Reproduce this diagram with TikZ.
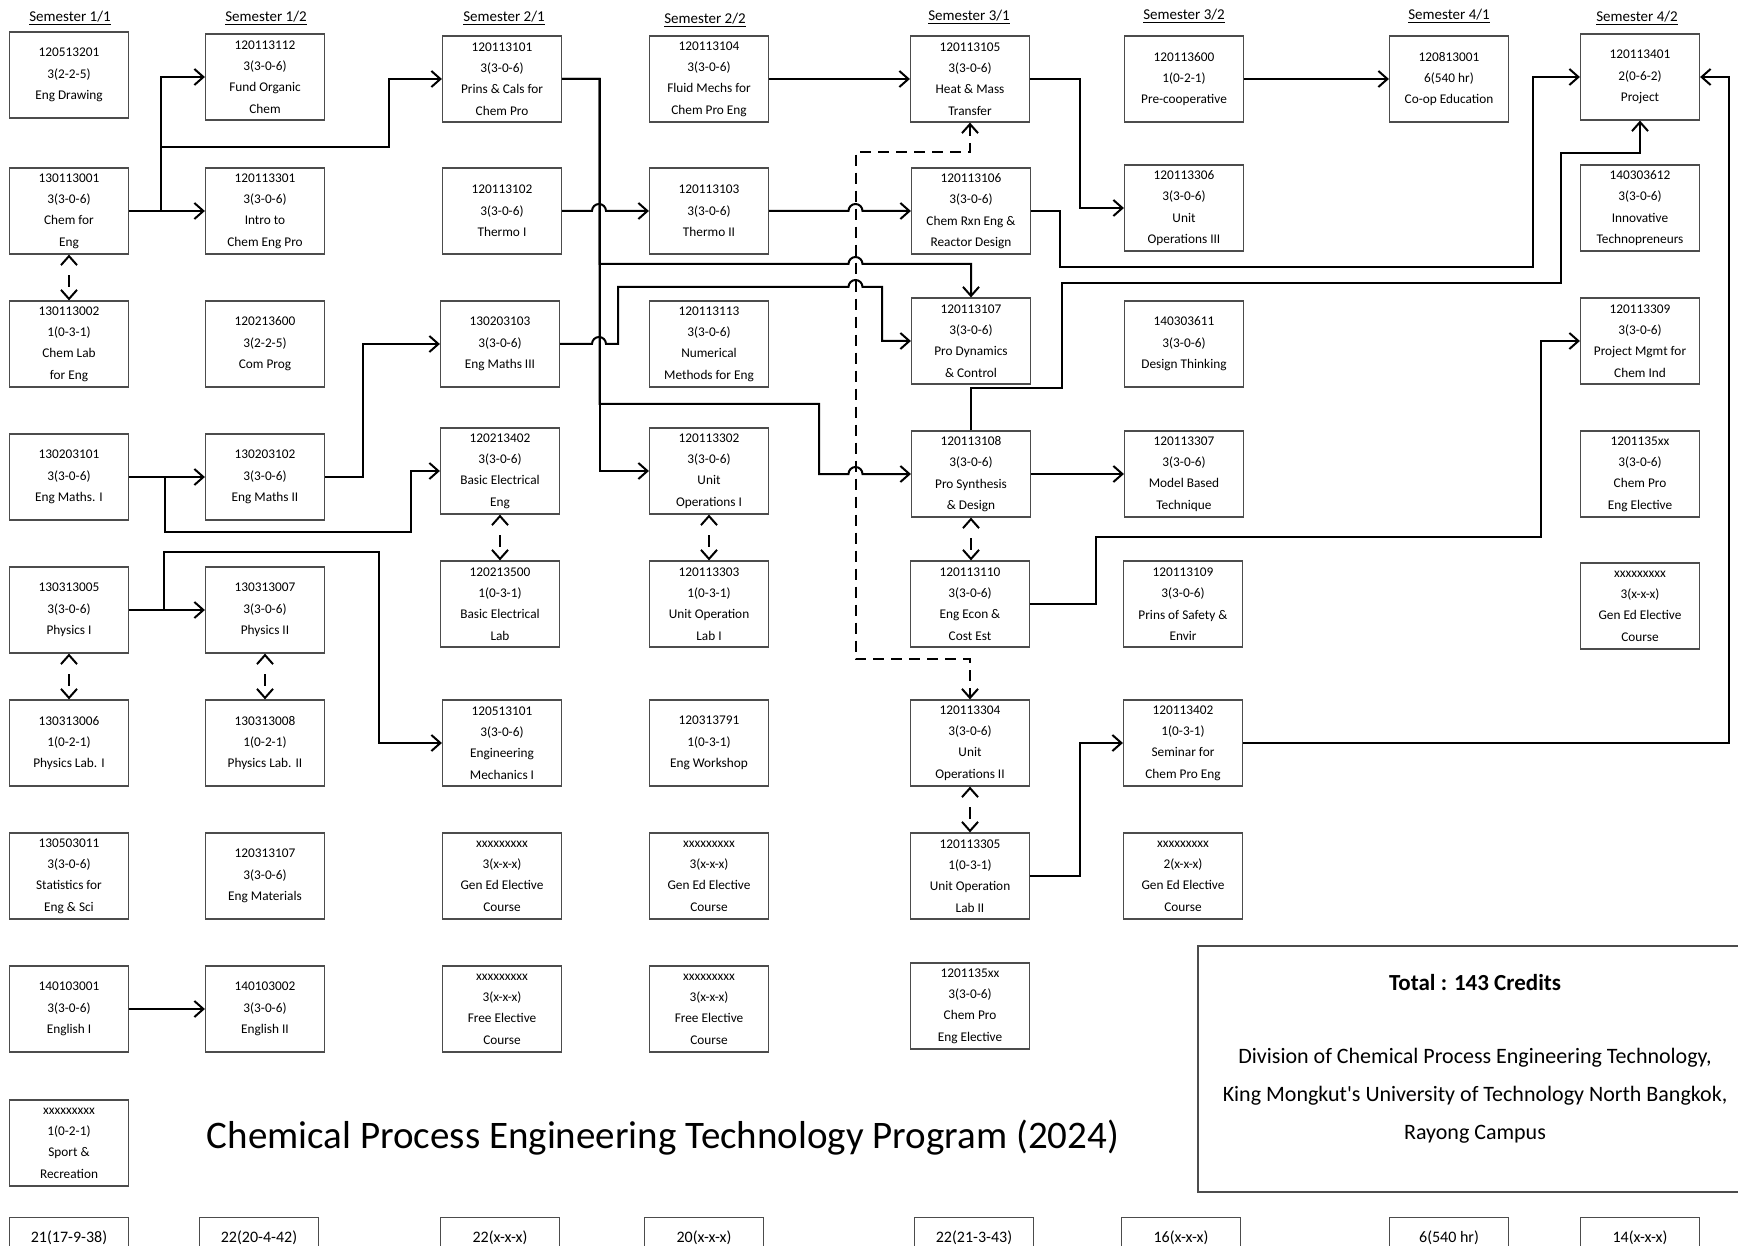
\documentclass[tikz,border=0pt]{standalone}
\usepackage{fontspec}
\setmainfont{Carlito}
\usepackage{tikz}
\usetikzlibrary{arrows.meta}

\begin{document}
\begin{tikzpicture}[x=1pt, y=-1pt,
    course/.style={draw=black!70, line width=1.2pt, minimum width=119pt, minimum height=86pt, inner sep=0pt, align=center, font=\fontsize{13.3}{21.4}\selectfont},
    sem/.style={font=\fontsize{15}{18}\selectfont},
    total/.style={draw=black!70, line width=1.2pt, anchor=north, minimum width=119pt, minimum height=40pt, inner sep=0pt, font=\fontsize{16}{18}\selectfont},
    arr/.style={-{Straight Barb[length=9pt,width=16pt]}, line width=2pt},
    coreq/.style={{Straight Barb[length=9pt,width=16pt]}-{Straight Barb[length=9pt,width=16pt]}, line width=2pt, dash pattern=on 12pt off 60pt, dash phase=54pt},
    coreqlong/.style={{Straight Barb[length=9pt,width=16pt]}-{Straight Barb[length=9pt,width=16pt]}, line width=2pt, dash pattern=on 11pt off 7pt},
]
    \useasboundingbox (0,0) rectangle (1738,1246);

    \node[sem] (s11) at (70,18)   {\underline{Semester 1/1}};
    \node[sem] (s12) at (266,18)  {\underline{Semester 1/2}};
    \node[sem] (s21) at (504,18)  {\underline{Semester 2/1}};
    \node[sem] (s22) at (705,20)  {\underline{Semester 2/2}};
    \node[sem] (s31) at (969,17)  {\underline{Semester 3/1}};
    \node[sem] (s32) at (1184,16) {\underline{Semester 3/2}};
    \node[sem] (s41) at (1449,16) {\underline{Semester 4/1}};
    \node[sem] (s42) at (1637,18) {\underline{Semester 4/2}};

    \node[course] (drw)     at (69,75)    {120513201\\3(2-2-5)\\Eng Drawing};
    \node[course] (chem)    at (69,211)   {130113001\\3(3-0-6)\\Chem for\\Eng};
    \node[course] (chemlab) at (69,344)   {130113002\\1(0-3-1)\\Chem Lab\\for Eng};
    \node[course] (m1)      at (69,477)   {130203101\\3(3-0-6)\\Eng Maths. I};
    \node[course] (ph1)     at (69,610)   {130313005\\3(3-0-6)\\Physics I};
    \node[course] (phl1)    at (69,743)   {130313006\\1(0-2-1)\\Physics Lab. I};
    \node[course] (stat)    at (69,876)   {130503011\\3(3-0-6)\\Statistics for\\Eng \& Sci};
    \node[course] (en1)     at (69,1009)  {140103001\\3(3-0-6)\\English I};
    \node[course] (sport)   at (69,1143)  {xxxxxxxxx\\1(0-2-1)\\Sport \&\\Recreation};

    \node[course] (orgchem) at (265,77)   {120113112\\3(3-0-6)\\Fund Organic\\Chem};
    \node[course] (intro)   at (265,211)  {120113301\\3(3-0-6)\\Intro to\\Chem Eng Pro};
    \node[course] (prog)    at (265,344)  {120213600\\3(2-2-5)\\Com Prog};
    \node[course] (m2)      at (265,477)  {130203102\\3(3-0-6)\\Eng Maths II};
    \node[course] (ph2)     at (265,610)  {130313007\\3(3-0-6)\\Physics II};
    \node[course] (phl2)    at (265,743)  {130313008\\1(0-2-1)\\Physics Lab. II};
    \node[course] (mat)     at (265,876)  {120313107\\3(3-0-6)\\Eng Materials};
    \node[course] (en2)     at (265,1009) {140103002\\3(3-0-6)\\English II};

    \node[course] (prins)   at (502,79)   {120113101\\3(3-0-6)\\Prins \& Cals for\\Chem Pro};
    \node[course] (th1)     at (502,211)  {120113102\\3(3-0-6)\\Thermo I};
    \node[course] (m3)      at (500,344)  {130203103\\3(3-0-6)\\Eng Maths III};
    \node[course] (elec)    at (500,471)  {120213402\\3(3-0-6)\\Basic Electrical\\Eng};
    \node[course] (eleclab) at (500,604)  {120213500\\1(0-3-1)\\Basic Electrical\\Lab};
    \node[course] (mech)    at (502,743)  {120513101\\3(3-0-6)\\Engineering\\Mechanics I};
    \node[course] (ge21)    at (502,876)  {xxxxxxxxx\\3(x-x-x)\\Gen Ed Elective\\Course};
    \node[course] (fe21)    at (502,1009) {xxxxxxxxx\\3(x-x-x)\\Free Elective\\Course};

    \node[course] (fluid)   at (709,79)   {120113104\\3(3-0-6)\\Fluid Mechs for\\Chem Pro Eng};
    \node[course] (th2)     at (709,211)  {120113103\\3(3-0-6)\\Thermo II};
    \node[course] (num)     at (709,344)  {120113113\\3(3-0-6)\\Numerical\\Methods for Eng};
    \node[course] (uo1)     at (709,471)  {120113302\\3(3-0-6)\\Unit\\Operations I};
    \node[course] (uol1)    at (709,604)  {120113303\\1(0-3-1)\\Unit Operation\\Lab I};
    \node[course] (shop)    at (709,743)  {120313791\\1(0-3-1)\\Eng Workshop};
    \node[course] (ge22)    at (709,876)  {xxxxxxxxx\\3(x-x-x)\\Gen Ed Elective\\Course};
    \node[course] (fe22)    at (709,1009) {xxxxxxxxx\\3(x-x-x)\\Free Elective\\Course};

    \node[course] (heat)    at (970,79)   {120113105\\3(3-0-6)\\Heat \& Mass\\Transfer};
    \node[course] (rxn)     at (971,211)  {120113106\\3(3-0-6)\\Chem Rxn Eng \&\\Reactor Design};
    \node[course] (dyn)     at (971,341)  {120113107\\3(3-0-6)\\Pro Dynamics\\\& Control};
    \node[course] (syn)     at (971,474)  {120113108\\3(3-0-6)\\Pro Synthesis\\\& Design};
    \node[course] (econ)    at (970,604)  {120113110\\3(3-0-6)\\Eng Econ \&\\Cost Est};
    \node[course] (uo2)     at (970,743)  {120113304\\3(3-0-6)\\Unit\\Operations II};
    \node[course] (uol2)    at (970,876)  {120113305\\1(0-3-1)\\Unit Operation\\Lab II};
    \node[course] (el31)    at (970,1006) {1201135xx\\3(3-0-6)\\Chem Pro\\Eng Elective};

    \node[course] (precoop) at (1184,79)  {120113600\\1(0-2-1)\\Pre-cooperative};
    \node[course] (uo3)     at (1184,208) {120113306\\3(3-0-6)\\Unit\\Operations III};
    \node[course] (think)   at (1184,344) {140303611\\3(3-0-6)\\Design Thinking};
    \node[course] (model)   at (1184,474) {120113307\\3(3-0-6)\\Model Based\\Technique};
    \node[course] (safety)  at (1183,604) {120113109\\3(3-0-6)\\Prins of Safety \&\\Envir};
    \node[course] (sem)     at (1183,743) {120113402\\1(0-3-1)\\Seminar for\\Chem Pro Eng};
    \node[course] (ge32)    at (1183,876) {xxxxxxxxx\\2(x-x-x)\\Gen Ed Elective\\Course};

    \node[course] (coop)    at (1449,79)  {120813001\\6(540 hr)\\Co-op Education};

    \node[course] (proj)    at (1640,77)  {120113401\\2(0-6-2)\\Project};
    \node[course] (innov)   at (1640,208) {140303612\\3(3-0-6)\\Innovative\\Technopreneurs};
    \node[course] (pm)      at (1640,341) {120113309\\3(3-0-6)\\Project Mgmt for\\Chem Ind};
    \node[course] (el42)    at (1640,474) {1201135xx\\3(3-0-6)\\Chem Pro\\Eng Elective};
    \node[course] (ge42)    at (1640,606) {xxxxxxxxx\\3(x-x-x)\\Gen Ed Elective\\Course};

    \node[total] (t11) at (69,1217)   {21(17-9-38)};
    \node[total] (t12) at (259,1217)  {22(20-4-42)};
    \node[total] (t21) at (500,1217)  {22(x-x-x)};
    \node[total] (t22) at (704,1217)  {20(x-x-x)};
    \node[total] (t31) at (974,1217)  {22(21-3-43)};
    \node[total] (t32) at (1181,1217) {16(x-x-x)};
    \node[total] (t41) at (1449,1217) {6(540 hr)};
    \node[total] (t42) at (1640,1217) {14(x-x-x)};

    \node[font=\fontsize{39}{47}\selectfont] (title) at (663,1138) {Chemical Process Engineering Technology Program (2024)};
    \node[draw=black!70, line width=1.2pt, minimum width=542pt, minimum height=246pt] (info) at (1469,1069) {};
    \node[font=\bfseries\fontsize{23}{28}\selectfont] (credits) at (1475,983) {Total : 143 Credits};
    \node[align=center, font=\fontsize{22}{38}\selectfont] (division) at (1475,1096) {Division of Chemical Process Engineering Technology,\\King Mongkut\textquotesingle s University of Technology North Bangkok,\\Rayong Campus};

    \draw[arr] (chem.east) -- (intro.west);
    \draw[arr] (chem.east) -- ++(32,0) |- (orgchem.west);
    \draw[arr] (chem.east) -- ++(32,0) |- (389,147) |- (prins.west);
    \draw[arr] (m1.east) -- (m2.west);
    \draw[arr] (m1.east) -- ++(36,0) |- (410.6,532) |- (elec.west);
    \draw[arr] (m2.east) -- ++(38,0) |- (m3.west);
    \draw[arr] (ph1.east) -- (ph2.west);
    \draw[arr] (ph1.east) -- ++(35,0) |- (379,552) |- (mech.west);
    \draw[arr] (en1.east) -- (en2.west);

    \draw[arr] (prins.east) -- ++(37.5,0) |- (uo1.west);
    \draw[arr] (prins.east) -- ++(37.5,0) |- (848.5,264) arc[start angle=180,end angle=0,radius=7pt] -| (dyn.north);
    \draw[arr] (prins.east) -- ++(37.5,0) |- (819,404) |- (848.5,474) arc[start angle=180,end angle=0,radius=7pt] -- (syn.west);
    \draw[arr] (th1.east) -- (592,211) arc[start angle=180,end angle=0,radius=7pt] -- (th2.west);
    \draw[arr] (m3.east) -- (592,344) arc[start angle=180,end angle=0,radius=7pt] -| (618,287) -- (848.5,287) arc[start angle=180,end angle=0,radius=7pt] -- (882,287) |- (dyn.west);
    \draw[arr] (th2.east) -- (848.5,211) arc[start angle=180,end angle=0,radius=7pt] -- (rxn.west);
    \draw[arr] (fluid.east) -- (heat.west);

    \draw[arr] (heat.east) -- ++(49.5,0) |- (uo3.west);
    \draw[arr] (rxn.east) -- ++(29,0) |- (1533,267) |- (proj.west);
    \draw[arr] (syn.north) |- (1062,388) |- (1561,283) -- (1561,153) -| (proj.south);
    \draw[arr] (syn.east) -- (model.west);
    \draw[arr] (econ.east) -- ++(65.5,0) |- (1541,537) |- (pm.west);
    \draw[arr] (uol2.east) -- ++(49.5,0) |- (sem.west);
    \draw[arr] (sem.east) -- ++(486,0) |- (proj.east);
    \draw[arr] (precoop.east) -- (coop.west);

    \draw[coreq] (chem.south) -- (chemlab.north);
    \draw[coreq] (ph1.south) -- (phl1.north);
    \draw[coreq] (ph2.south) -- (phl2.north);
    \draw[coreq] (elec.south) -- (eleclab.north);
    \draw[coreq] (uo1.south) -- (uol1.north);
    \draw[coreq] (syn.south) -- (syn.south |- econ.north);
    \draw[coreq] (uo2.south) -- (uol2.north);
    \draw[coreqlong] (heat.south) -- ++(0,29) -| (855.5,659) -| (uo2.north);
\end{tikzpicture}
\end{document}
